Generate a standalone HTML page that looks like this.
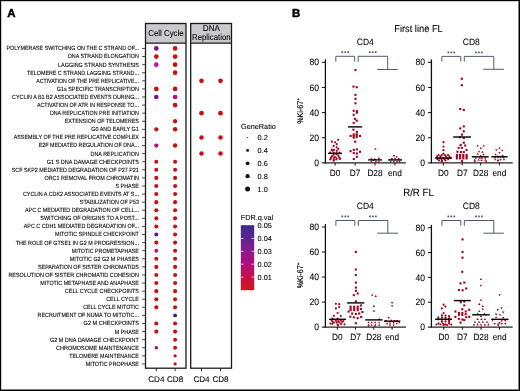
<!DOCTYPE html>
<html><head><meta charset="utf-8"><style>
html,body{margin:0;padding:0;background:#fff;}
#f{position:relative;width:520px;height:391px;overflow:hidden;background:#fff;}
svg{position:absolute;left:0;top:0;font-family:"Liberation Sans", sans-serif;will-change:transform;text-rendering:geometricPrecision;}
#m{filter:blur(0.3px);}
</style></head><body><div id="f">
<svg id="m" width="520" height="391" viewBox="0 0 520 391">
<text x="7.20" y="17.10" font-size="11.5" text-anchor="start" font-weight="bold" fill="#000" stroke="#000" stroke-width="0.45" >A</text>
<rect x="145.50" y="23.50" width="40.50" height="19.70" fill="#cacace" stroke="none" stroke-width="1"/>
<rect x="190.70" y="23.50" width="40.80" height="19.70" fill="#cacace" stroke="none" stroke-width="1"/>
<rect x="145.50" y="23.50" width="40.50" height="344.70" fill="none" stroke="#1a1a1a" stroke-width="1.3"/>
<rect x="190.70" y="23.50" width="40.80" height="344.70" fill="none" stroke="#1a1a1a" stroke-width="1.3"/>
<line x1="145.50" y1="43.20" x2="186.00" y2="43.20" stroke="#1a1a1a" stroke-width="1.2"/>
<line x1="190.70" y1="43.20" x2="231.50" y2="43.20" stroke="#1a1a1a" stroke-width="1.2"/>
<text x="165.95" y="36.10" font-size="8.5" text-anchor="middle" font-weight="normal" fill="#000" stroke="#000" stroke-width="0.08" textLength="35.4" lengthAdjust="spacingAndGlyphs">Cell Cycle</text>
<text x="211.35" y="31.00" font-size="8.5" text-anchor="middle" font-weight="normal" fill="#000" stroke="#000" stroke-width="0.08" textLength="17.2" lengthAdjust="spacingAndGlyphs">DNA</text>
<text x="211.30" y="40.00" font-size="8.5" text-anchor="middle" font-weight="normal" fill="#000" stroke="#000" stroke-width="0.08" textLength="38.6" lengthAdjust="spacingAndGlyphs">Replication</text>
<text x="138.9" y="50.35" font-size="6.0" text-anchor="end" fill="#000" stroke="#000" stroke-width="0.1" textLength="132.40" lengthAdjust="spacingAndGlyphs">POLYMERASE SWITCHING ON THE C STRAND OF...</text>
<line x1="142.10" y1="48.45" x2="145.30" y2="48.45" stroke="#333" stroke-width="0.9"/>
<circle cx="156.30" cy="48.45" r="2.35" fill="#731886"/>
<circle cx="175.10" cy="48.45" r="2.35" fill="#c81010"/>
<text x="138.9" y="58.44" font-size="6.0" text-anchor="end" fill="#000" stroke="#000" stroke-width="0.1" textLength="71.00" lengthAdjust="spacingAndGlyphs">DNA STRAND ELONGATION</text>
<line x1="142.10" y1="56.54" x2="145.30" y2="56.54" stroke="#333" stroke-width="0.9"/>
<circle cx="156.30" cy="56.54" r="2.35" fill="#c81010"/>
<circle cx="175.10" cy="56.54" r="2.35" fill="#c81010"/>
<text x="138.9" y="66.53" font-size="6.0" text-anchor="end" fill="#000" stroke="#000" stroke-width="0.1" textLength="80.80" lengthAdjust="spacingAndGlyphs">LAGGING STRAND SYNTHESIS</text>
<line x1="142.10" y1="64.63" x2="145.30" y2="64.63" stroke="#333" stroke-width="0.9"/>
<circle cx="156.30" cy="64.63" r="2.35" fill="#c0129a"/>
<circle cx="175.10" cy="64.63" r="2.35" fill="#c81010"/>
<text x="138.9" y="74.62" font-size="6.0" text-anchor="end" fill="#000" stroke="#000" stroke-width="0.1" textLength="111.90" lengthAdjust="spacingAndGlyphs">TELOMERE C STRAND LAGGING STRAND...</text>
<line x1="142.10" y1="72.72" x2="145.30" y2="72.72" stroke="#333" stroke-width="0.9"/>
<circle cx="175.10" cy="72.72" r="2.35" fill="#c81010"/>
<text x="138.9" y="82.71" font-size="6.0" text-anchor="end" fill="#000" stroke="#000" stroke-width="0.1" textLength="102.70" lengthAdjust="spacingAndGlyphs">ACTIVATION OF THE PRE REPLICATIVE...</text>
<line x1="142.10" y1="80.81" x2="145.30" y2="80.81" stroke="#333" stroke-width="0.9"/>
<circle cx="201.50" cy="80.81" r="2.35" fill="#c81010"/>
<circle cx="220.50" cy="80.81" r="2.35" fill="#c81010"/>
<text x="138.9" y="90.80" font-size="6.0" text-anchor="end" fill="#000" stroke="#000" stroke-width="0.1" textLength="82.20" lengthAdjust="spacingAndGlyphs">G1s SPECIFIC TRANSCRIPTION</text>
<line x1="142.10" y1="88.90" x2="145.30" y2="88.90" stroke="#333" stroke-width="0.9"/>
<circle cx="156.30" cy="88.90" r="2.35" fill="#c81010"/>
<circle cx="175.10" cy="88.90" r="2.35" fill="#c81010"/>
<text x="138.9" y="98.89" font-size="6.0" text-anchor="end" fill="#000" stroke="#000" stroke-width="0.1" textLength="126.80" lengthAdjust="spacingAndGlyphs">CYCLIN A B1 B2 ASSOCIATED EVENTS DURING...</text>
<line x1="142.10" y1="96.99" x2="145.30" y2="96.99" stroke="#333" stroke-width="0.9"/>
<circle cx="156.30" cy="96.99" r="2.35" fill="#731886"/>
<circle cx="175.10" cy="96.99" r="2.35" fill="#c4087c"/>
<text x="138.9" y="106.98" font-size="6.0" text-anchor="end" fill="#000" stroke="#000" stroke-width="0.1" textLength="101.90" lengthAdjust="spacingAndGlyphs">ACTIVATION OF ATR IN RESPONSE TO...</text>
<line x1="142.10" y1="105.08" x2="145.30" y2="105.08" stroke="#333" stroke-width="0.9"/>
<circle cx="175.10" cy="105.08" r="2.35" fill="#c81010"/>
<text x="138.9" y="115.07" font-size="6.0" text-anchor="end" fill="#000" stroke="#000" stroke-width="0.1" textLength="89.00" lengthAdjust="spacingAndGlyphs">DNA REPLICATION PRE INITIATION</text>
<line x1="142.10" y1="113.17" x2="145.30" y2="113.17" stroke="#333" stroke-width="0.9"/>
<circle cx="201.50" cy="113.17" r="2.35" fill="#c81010"/>
<circle cx="220.50" cy="113.17" r="2.35" fill="#c81010"/>
<text x="138.9" y="123.16" font-size="6.0" text-anchor="end" fill="#000" stroke="#000" stroke-width="0.1" textLength="74.10" lengthAdjust="spacingAndGlyphs">EXTENSION OF TELOMERES</text>
<line x1="142.10" y1="121.26" x2="145.30" y2="121.26" stroke="#333" stroke-width="0.9"/>
<circle cx="175.10" cy="121.26" r="2.15" fill="#c81010"/>
<text x="138.9" y="131.25" font-size="6.0" text-anchor="end" fill="#000" stroke="#000" stroke-width="0.1" textLength="47.70" lengthAdjust="spacingAndGlyphs">G0 AND EARLY G1</text>
<line x1="142.10" y1="129.35" x2="145.30" y2="129.35" stroke="#333" stroke-width="0.9"/>
<circle cx="156.30" cy="129.35" r="2.15" fill="#c81010"/>
<circle cx="175.10" cy="129.35" r="2.25" fill="#c81010"/>
<text x="138.9" y="139.34" font-size="6.0" text-anchor="end" fill="#000" stroke="#000" stroke-width="0.1" textLength="125.20" lengthAdjust="spacingAndGlyphs">ASSEMBLY OF THE PRE REPLICATIVE COMPLEX</text>
<line x1="142.10" y1="137.44" x2="145.30" y2="137.44" stroke="#333" stroke-width="0.9"/>
<circle cx="201.50" cy="137.44" r="2.25" fill="#c81010"/>
<circle cx="220.50" cy="137.44" r="2.25" fill="#c81010"/>
<text x="138.9" y="147.43" font-size="6.0" text-anchor="end" fill="#000" stroke="#000" stroke-width="0.1" textLength="100.20" lengthAdjust="spacingAndGlyphs">E2F MEDIATED REGULATION OF DNA...</text>
<line x1="142.10" y1="145.53" x2="145.30" y2="145.53" stroke="#333" stroke-width="0.9"/>
<circle cx="156.30" cy="145.53" r="2.15" fill="#c40a6e"/>
<circle cx="175.10" cy="145.53" r="2.25" fill="#c81010"/>
<text x="138.9" y="155.52" font-size="6.0" text-anchor="end" fill="#000" stroke="#000" stroke-width="0.1" textLength="48.40" lengthAdjust="spacingAndGlyphs">DNA REPLICATION</text>
<line x1="142.10" y1="153.62" x2="145.30" y2="153.62" stroke="#333" stroke-width="0.9"/>
<circle cx="201.50" cy="153.62" r="2.25" fill="#c81010"/>
<circle cx="220.50" cy="153.62" r="2.25" fill="#c81010"/>
<text x="138.9" y="163.61" font-size="6.0" text-anchor="end" fill="#000" stroke="#000" stroke-width="0.1" textLength="92.10" lengthAdjust="spacingAndGlyphs">G1 S DNA DAMAGE CHECKPOINTS</text>
<line x1="142.10" y1="161.71" x2="145.30" y2="161.71" stroke="#333" stroke-width="0.9"/>
<circle cx="156.30" cy="161.71" r="2.05" fill="#c81010"/>
<circle cx="175.10" cy="161.71" r="2.05" fill="#c81010"/>
<text x="138.9" y="171.70" font-size="6.0" text-anchor="end" fill="#000" stroke="#000" stroke-width="0.1" textLength="127.20" lengthAdjust="spacingAndGlyphs">SCF SKP2 MEDIATED DEGRADATION OF P27 P21</text>
<line x1="142.10" y1="169.80" x2="145.30" y2="169.80" stroke="#333" stroke-width="0.9"/>
<circle cx="156.30" cy="169.80" r="2.05" fill="#c81010"/>
<circle cx="175.10" cy="169.80" r="2.05" fill="#c81010"/>
<text x="138.9" y="179.79" font-size="6.0" text-anchor="end" fill="#000" stroke="#000" stroke-width="0.1" textLength="94.50" lengthAdjust="spacingAndGlyphs">ORC1 REMOVAL FROM CHROMATIN</text>
<line x1="142.10" y1="177.89" x2="145.30" y2="177.89" stroke="#333" stroke-width="0.9"/>
<circle cx="156.30" cy="177.89" r="2.05" fill="#c81010"/>
<circle cx="175.10" cy="177.89" r="2.05" fill="#c81010"/>
<text x="138.9" y="187.88" font-size="6.0" text-anchor="end" fill="#000" stroke="#000" stroke-width="0.1" textLength="23.40" lengthAdjust="spacingAndGlyphs">S PHASE</text>
<line x1="142.10" y1="185.98" x2="145.30" y2="185.98" stroke="#333" stroke-width="0.9"/>
<circle cx="156.30" cy="185.98" r="2.05" fill="#c81010"/>
<circle cx="175.10" cy="185.98" r="2.05" fill="#c81010"/>
<text x="138.9" y="195.97" font-size="6.0" text-anchor="end" fill="#000" stroke="#000" stroke-width="0.1" textLength="116.00" lengthAdjust="spacingAndGlyphs">CYCLIN A CDK2 ASSOCIATED EVENTS AT S...</text>
<line x1="142.10" y1="194.07" x2="145.30" y2="194.07" stroke="#333" stroke-width="0.9"/>
<circle cx="156.30" cy="194.07" r="2.05" fill="#c81010"/>
<circle cx="175.10" cy="194.07" r="2.05" fill="#c81010"/>
<text x="138.9" y="204.06" font-size="6.0" text-anchor="end" fill="#000" stroke="#000" stroke-width="0.1" textLength="59.10" lengthAdjust="spacingAndGlyphs">STABILIZATION OF P53</text>
<line x1="142.10" y1="202.16" x2="145.30" y2="202.16" stroke="#333" stroke-width="0.9"/>
<circle cx="156.30" cy="202.16" r="2.05" fill="#c81010"/>
<circle cx="175.10" cy="202.16" r="2.05" fill="#c81010"/>
<text x="138.9" y="212.15" font-size="6.0" text-anchor="end" fill="#000" stroke="#000" stroke-width="0.1" textLength="113.90" lengthAdjust="spacingAndGlyphs">APC C MEDIATED DEGRADATION OF CELL...</text>
<line x1="142.10" y1="210.25" x2="145.30" y2="210.25" stroke="#333" stroke-width="0.9"/>
<circle cx="156.30" cy="210.25" r="2.05" fill="#c81010"/>
<circle cx="175.10" cy="210.25" r="2.05" fill="#c81010"/>
<text x="138.9" y="220.24" font-size="6.0" text-anchor="end" fill="#000" stroke="#000" stroke-width="0.1" textLength="98.60" lengthAdjust="spacingAndGlyphs">SWITCHING OF ORIGINS TO A POST...</text>
<line x1="142.10" y1="218.34" x2="145.30" y2="218.34" stroke="#333" stroke-width="0.9"/>
<circle cx="156.30" cy="218.34" r="2.05" fill="#c81010"/>
<circle cx="175.10" cy="218.34" r="2.05" fill="#c81010"/>
<text x="138.9" y="228.33" font-size="6.0" text-anchor="end" fill="#000" stroke="#000" stroke-width="0.1" textLength="115.20" lengthAdjust="spacingAndGlyphs">APC C CDH1 MEDIATED DEGRADATION OF...</text>
<line x1="142.10" y1="226.43" x2="145.30" y2="226.43" stroke="#333" stroke-width="0.9"/>
<circle cx="156.30" cy="226.43" r="2.05" fill="#c81010"/>
<circle cx="175.10" cy="226.43" r="2.05" fill="#c81010"/>
<text x="138.9" y="236.42" font-size="6.0" text-anchor="end" fill="#000" stroke="#000" stroke-width="0.1" textLength="83.90" lengthAdjust="spacingAndGlyphs">MITOTIC SPINDLE CHECKPOINT</text>
<line x1="142.10" y1="234.52" x2="145.30" y2="234.52" stroke="#333" stroke-width="0.9"/>
<circle cx="156.30" cy="234.52" r="1.95" fill="#5c1490"/>
<circle cx="175.10" cy="234.52" r="2.05" fill="#c81010"/>
<text x="138.9" y="244.51" font-size="6.0" text-anchor="end" fill="#000" stroke="#000" stroke-width="0.1" textLength="123.10" lengthAdjust="spacingAndGlyphs">THE ROLE OF GTSE1 IN G2 M PROGRESSION...</text>
<line x1="142.10" y1="242.61" x2="145.30" y2="242.61" stroke="#333" stroke-width="0.9"/>
<circle cx="156.30" cy="242.61" r="2.05" fill="#c81010"/>
<circle cx="175.10" cy="242.61" r="2.05" fill="#c81010"/>
<text x="138.9" y="252.60" font-size="6.0" text-anchor="end" fill="#000" stroke="#000" stroke-width="0.1" textLength="67.10" lengthAdjust="spacingAndGlyphs">MITOTIC PROMETAPHASE</text>
<line x1="142.10" y1="250.70" x2="145.30" y2="250.70" stroke="#333" stroke-width="0.9"/>
<circle cx="156.30" cy="250.70" r="1.95" fill="#c41060"/>
<circle cx="175.10" cy="250.70" r="2.05" fill="#c81010"/>
<text x="138.9" y="260.69" font-size="6.0" text-anchor="end" fill="#000" stroke="#000" stroke-width="0.1" textLength="69.20" lengthAdjust="spacingAndGlyphs">MITOTIC G2 G2 M PHASES</text>
<line x1="142.10" y1="258.79" x2="145.30" y2="258.79" stroke="#333" stroke-width="0.9"/>
<circle cx="156.30" cy="258.79" r="2.05" fill="#c81010"/>
<circle cx="175.10" cy="258.79" r="2.05" fill="#c81010"/>
<text x="138.9" y="268.78" font-size="6.0" text-anchor="end" fill="#000" stroke="#000" stroke-width="0.1" textLength="100.90" lengthAdjust="spacingAndGlyphs">SEPARATION OF SISTER CHROMATIDS</text>
<line x1="142.10" y1="266.88" x2="145.30" y2="266.88" stroke="#333" stroke-width="0.9"/>
<circle cx="156.30" cy="266.88" r="2.05" fill="#c81010"/>
<circle cx="175.10" cy="266.88" r="2.05" fill="#c81010"/>
<text x="138.9" y="276.87" font-size="6.0" text-anchor="end" fill="#000" stroke="#000" stroke-width="0.1" textLength="130.50" lengthAdjust="spacingAndGlyphs">RESOLUTION OF SISTER CHROMATID COHESION</text>
<line x1="142.10" y1="274.97" x2="145.30" y2="274.97" stroke="#333" stroke-width="0.9"/>
<circle cx="156.30" cy="274.97" r="2.05" fill="#c81010"/>
<circle cx="175.10" cy="274.97" r="2.05" fill="#c81010"/>
<text x="138.9" y="284.96" font-size="6.0" text-anchor="end" fill="#000" stroke="#000" stroke-width="0.1" textLength="98.60" lengthAdjust="spacingAndGlyphs">MITOTIC METAPHASE AND ANAPHASE</text>
<line x1="142.10" y1="283.06" x2="145.30" y2="283.06" stroke="#333" stroke-width="0.9"/>
<circle cx="156.30" cy="283.06" r="2.05" fill="#c81010"/>
<circle cx="175.10" cy="283.06" r="2.05" fill="#c81010"/>
<text x="138.9" y="293.05" font-size="6.0" text-anchor="end" fill="#000" stroke="#000" stroke-width="0.1" textLength="74.10" lengthAdjust="spacingAndGlyphs">CELL CYCLE CHECKPOINTS</text>
<line x1="142.10" y1="291.15" x2="145.30" y2="291.15" stroke="#333" stroke-width="0.9"/>
<circle cx="156.30" cy="291.15" r="2.05" fill="#c81010"/>
<circle cx="175.10" cy="291.15" r="2.05" fill="#c81010"/>
<text x="138.9" y="301.14" font-size="6.0" text-anchor="end" fill="#000" stroke="#000" stroke-width="0.1" textLength="32.70" lengthAdjust="spacingAndGlyphs">CELL CYCLE</text>
<line x1="142.10" y1="299.24" x2="145.30" y2="299.24" stroke="#333" stroke-width="0.9"/>
<circle cx="156.30" cy="299.24" r="2.05" fill="#c81010"/>
<circle cx="175.10" cy="299.24" r="2.05" fill="#c81010"/>
<text x="138.9" y="309.23" font-size="6.0" text-anchor="end" fill="#000" stroke="#000" stroke-width="0.1" textLength="55.70" lengthAdjust="spacingAndGlyphs">CELL CYCLE MITOTIC</text>
<line x1="142.10" y1="307.33" x2="145.30" y2="307.33" stroke="#333" stroke-width="0.9"/>
<circle cx="156.30" cy="307.33" r="2.05" fill="#c81010"/>
<circle cx="175.10" cy="307.33" r="2.05" fill="#c81010"/>
<text x="138.9" y="317.32" font-size="6.0" text-anchor="end" fill="#000" stroke="#000" stroke-width="0.1" textLength="101.30" lengthAdjust="spacingAndGlyphs">RECRUITMENT OF NUMA TO MITOTIC...</text>
<line x1="142.10" y1="315.42" x2="145.30" y2="315.42" stroke="#333" stroke-width="0.9"/>
<circle cx="175.10" cy="315.42" r="1.95" fill="#4a1894"/>
<text x="138.9" y="325.41" font-size="6.0" text-anchor="end" fill="#000" stroke="#000" stroke-width="0.1" textLength="55.30" lengthAdjust="spacingAndGlyphs">G2 M CHECKPOINTS</text>
<line x1="142.10" y1="323.51" x2="145.30" y2="323.51" stroke="#333" stroke-width="0.9"/>
<circle cx="156.30" cy="323.51" r="2.05" fill="#c81010"/>
<circle cx="175.10" cy="323.51" r="2.05" fill="#c81010"/>
<text x="138.9" y="333.50" font-size="6.0" text-anchor="end" fill="#000" stroke="#000" stroke-width="0.1" textLength="24.20" lengthAdjust="spacingAndGlyphs">M PHASE</text>
<line x1="142.10" y1="331.60" x2="145.30" y2="331.60" stroke="#333" stroke-width="0.9"/>
<circle cx="156.30" cy="331.60" r="2.05" fill="#c81010"/>
<circle cx="175.10" cy="331.60" r="2.05" fill="#c81010"/>
<text x="138.9" y="341.59" font-size="6.0" text-anchor="end" fill="#000" stroke="#000" stroke-width="0.1" textLength="89.00" lengthAdjust="spacingAndGlyphs">G2 M DNA DAMAGE CHECKPOINT</text>
<line x1="142.10" y1="339.69" x2="145.30" y2="339.69" stroke="#333" stroke-width="0.9"/>
<circle cx="175.10" cy="339.69" r="1.95" fill="#c81010"/>
<text x="138.9" y="349.68" font-size="6.0" text-anchor="end" fill="#000" stroke="#000" stroke-width="0.1" textLength="82.90" lengthAdjust="spacingAndGlyphs">CHROMOSOME MAINTENANCE</text>
<line x1="142.10" y1="347.78" x2="145.30" y2="347.78" stroke="#333" stroke-width="0.9"/>
<circle cx="156.30" cy="347.78" r="1.75" fill="#a8106a"/>
<circle cx="175.10" cy="347.78" r="1.95" fill="#c81010"/>
<text x="138.9" y="357.77" font-size="6.0" text-anchor="end" fill="#000" stroke="#000" stroke-width="0.1" textLength="69.60" lengthAdjust="spacingAndGlyphs">TELOMERE MAINTENANCE</text>
<line x1="142.10" y1="355.87" x2="145.30" y2="355.87" stroke="#333" stroke-width="0.9"/>
<circle cx="175.10" cy="355.87" r="1.65" fill="#c81010"/>
<text x="138.9" y="365.86" font-size="6.0" text-anchor="end" fill="#000" stroke="#000" stroke-width="0.1" textLength="53.20" lengthAdjust="spacingAndGlyphs">MITOTIC PROPHASE</text>
<line x1="142.10" y1="363.96" x2="145.30" y2="363.96" stroke="#333" stroke-width="0.9"/>
<circle cx="175.10" cy="363.96" r="1.65" fill="#c81010"/>
<line x1="156.30" y1="368.20" x2="156.30" y2="371.20" stroke="#1a1a1a" stroke-width="0.9"/>
<line x1="175.10" y1="368.20" x2="175.10" y2="371.20" stroke="#1a1a1a" stroke-width="0.9"/>
<line x1="201.50" y1="368.20" x2="201.50" y2="371.20" stroke="#1a1a1a" stroke-width="0.9"/>
<line x1="220.50" y1="368.20" x2="220.50" y2="371.20" stroke="#1a1a1a" stroke-width="0.9"/>
<text x="156.30" y="381.90" font-size="8.1" text-anchor="middle" font-weight="normal" fill="#000" stroke="#000" stroke-width="0.08" >CD4</text>
<text x="175.10" y="381.90" font-size="8.1" text-anchor="middle" font-weight="normal" fill="#000" stroke="#000" stroke-width="0.08" >CD8</text>
<text x="201.50" y="381.90" font-size="8.1" text-anchor="middle" font-weight="normal" fill="#000" stroke="#000" stroke-width="0.08" >CD4</text>
<text x="220.50" y="381.90" font-size="8.1" text-anchor="middle" font-weight="normal" fill="#000" stroke="#000" stroke-width="0.08" >CD8</text>
<text x="241.00" y="128.60" font-size="7.3" text-anchor="start" font-weight="normal" fill="#000" stroke="#000" stroke-width="0.08" >GeneRatio</text>
<circle cx="247.60" cy="137.50" r="0.60" fill="#111"/>
<text x="257.60" y="140.10" font-size="7.3" text-anchor="start" font-weight="normal" fill="#000" stroke="#000" stroke-width="0.08" >0.2</text>
<circle cx="247.60" cy="150.40" r="1.45" fill="#111"/>
<text x="257.60" y="153.00" font-size="7.3" text-anchor="start" font-weight="normal" fill="#000" stroke="#000" stroke-width="0.08" >0.4</text>
<circle cx="247.60" cy="163.30" r="1.85" fill="#111"/>
<text x="257.60" y="165.90" font-size="7.3" text-anchor="start" font-weight="normal" fill="#000" stroke="#000" stroke-width="0.08" >0.6</text>
<circle cx="247.60" cy="176.20" r="2.10" fill="#111"/>
<text x="257.60" y="178.80" font-size="7.3" text-anchor="start" font-weight="normal" fill="#000" stroke="#000" stroke-width="0.08" >0.8</text>
<circle cx="247.60" cy="189.10" r="2.50" fill="#111"/>
<text x="257.60" y="191.70" font-size="7.3" text-anchor="start" font-weight="normal" fill="#000" stroke="#000" stroke-width="0.08" >1.0</text>
<text x="240.70" y="220.30" font-size="7.3" text-anchor="start" font-weight="normal" fill="#000" stroke="#000" stroke-width="0.08" >FDR.q.val</text>
<defs><linearGradient id="g" x1="0" y1="0" x2="0" y2="1"><stop offset="0" stop-color="#3e2a8e"/><stop offset="0.2" stop-color="#5a2590"/><stop offset="0.4" stop-color="#8a1c8c"/><stop offset="0.6" stop-color="#b40c7e"/><stop offset="0.8" stop-color="#c80e48"/><stop offset="1" stop-color="#d0181a"/></linearGradient></defs>
<rect x="240.80" y="225.20" width="13.40" height="65.00" fill="url(#g)" stroke="none" stroke-width="1"/>
<text x="257.60" y="228.10" font-size="7.3" text-anchor="start" font-weight="normal" fill="#000" stroke="#000" stroke-width="0.08" >0.05</text>
<line x1="240.80" y1="238.40" x2="243.50" y2="238.40" stroke="#ffffff" stroke-width="0.7"/>
<line x1="251.50" y1="238.40" x2="254.20" y2="238.40" stroke="#ffffff" stroke-width="0.7"/>
<text x="257.60" y="241.00" font-size="7.3" text-anchor="start" font-weight="normal" fill="#000" stroke="#000" stroke-width="0.08" >0.04</text>
<line x1="240.80" y1="251.30" x2="243.50" y2="251.30" stroke="#ffffff" stroke-width="0.7"/>
<line x1="251.50" y1="251.30" x2="254.20" y2="251.30" stroke="#ffffff" stroke-width="0.7"/>
<text x="257.60" y="253.90" font-size="7.3" text-anchor="start" font-weight="normal" fill="#000" stroke="#000" stroke-width="0.08" >0.03</text>
<line x1="240.80" y1="264.20" x2="243.50" y2="264.20" stroke="#ffffff" stroke-width="0.7"/>
<line x1="251.50" y1="264.20" x2="254.20" y2="264.20" stroke="#ffffff" stroke-width="0.7"/>
<text x="257.60" y="266.80" font-size="7.3" text-anchor="start" font-weight="normal" fill="#000" stroke="#000" stroke-width="0.08" >0.02</text>
<line x1="240.80" y1="277.10" x2="243.50" y2="277.10" stroke="#ffffff" stroke-width="0.7"/>
<line x1="251.50" y1="277.10" x2="254.20" y2="277.10" stroke="#ffffff" stroke-width="0.7"/>
<text x="257.60" y="279.70" font-size="7.3" text-anchor="start" font-weight="normal" fill="#000" stroke="#000" stroke-width="0.08" >0.01</text>
<text x="292.10" y="17.10" font-size="11.5" text-anchor="start" font-weight="bold" fill="#000" stroke="#000" stroke-width="0.45" >B</text>
<text x="418.50" y="31.90" font-size="10.04" text-anchor="middle" font-weight="normal" fill="#000" stroke="#000" stroke-width="0.08" textLength="48.57" lengthAdjust="spacingAndGlyphs">First line FL</text>
<text x="418.50" y="196.00" font-size="10.48" text-anchor="middle" font-weight="normal" fill="#000" stroke="#000" stroke-width="0.08" textLength="30.72" lengthAdjust="spacingAndGlyphs">R/R FL</text>
<line x1="325.40" y1="59.41" x2="325.40" y2="163.50" stroke="#111" stroke-width="1.3"/>
<line x1="321.90" y1="162.90" x2="405.80" y2="162.90" stroke="#222" stroke-width="1.4"/>
<line x1="321.90" y1="137.75" x2="325.40" y2="137.75" stroke="#111" stroke-width="1.0"/>
<text x="319.10" y="140.90" font-size="9.29" text-anchor="end" font-weight="normal" fill="#000" stroke="#000" stroke-width="0.08" textLength="9.56" lengthAdjust="spacingAndGlyphs">20</text>
<line x1="321.90" y1="112.60" x2="325.40" y2="112.60" stroke="#111" stroke-width="1.0"/>
<text x="319.10" y="115.75" font-size="9.29" text-anchor="end" font-weight="normal" fill="#000" stroke="#000" stroke-width="0.08" textLength="9.56" lengthAdjust="spacingAndGlyphs">40</text>
<line x1="321.90" y1="87.45" x2="325.40" y2="87.45" stroke="#111" stroke-width="1.0"/>
<text x="319.10" y="90.60" font-size="9.29" text-anchor="end" font-weight="normal" fill="#000" stroke="#000" stroke-width="0.08" textLength="9.56" lengthAdjust="spacingAndGlyphs">60</text>
<line x1="321.90" y1="62.30" x2="325.40" y2="62.30" stroke="#111" stroke-width="1.0"/>
<text x="319.10" y="65.45" font-size="9.29" text-anchor="end" font-weight="normal" fill="#000" stroke="#000" stroke-width="0.08" textLength="9.56" lengthAdjust="spacingAndGlyphs">80</text>
<text x="319.10" y="166.05" font-size="9.29" text-anchor="end" font-weight="normal" fill="#000" stroke="#000" stroke-width="0.08" textLength="4.78" lengthAdjust="spacingAndGlyphs">0</text>
<line x1="335.10" y1="162.90" x2="335.10" y2="165.50" stroke="#111" stroke-width="1.0"/>
<text x="335.10" y="176.25" font-size="8.96" text-anchor="middle" font-weight="normal" fill="#000" stroke="#000" stroke-width="0.08" textLength="10.61" lengthAdjust="spacingAndGlyphs">D0</text>
<line x1="355.10" y1="162.90" x2="355.10" y2="165.50" stroke="#111" stroke-width="1.0"/>
<text x="355.10" y="176.25" font-size="8.96" text-anchor="middle" font-weight="normal" fill="#000" stroke="#000" stroke-width="0.08" textLength="10.61" lengthAdjust="spacingAndGlyphs">D7</text>
<line x1="375.00" y1="162.90" x2="375.00" y2="165.50" stroke="#111" stroke-width="1.0"/>
<text x="375.00" y="176.25" font-size="8.96" text-anchor="middle" font-weight="normal" fill="#000" stroke="#000" stroke-width="0.08" textLength="15.23" lengthAdjust="spacingAndGlyphs">D28</text>
<line x1="394.90" y1="162.90" x2="394.90" y2="165.50" stroke="#111" stroke-width="1.0"/>
<text x="394.90" y="176.25" font-size="8.96" text-anchor="middle" font-weight="normal" fill="#000" stroke="#000" stroke-width="0.08" textLength="13.85" lengthAdjust="spacingAndGlyphs">end</text>
<circle cx="338.20" cy="139.80" r="1.08" fill="#a0001c"/>
<circle cx="331.90" cy="141.70" r="1.08" fill="#a0001c"/>
<circle cx="335.10" cy="142.30" r="1.08" fill="#a0001c"/>
<circle cx="336.70" cy="144.20" r="1.08" fill="#a0001c"/>
<circle cx="333.60" cy="145.90" r="1.08" fill="#a0001c"/>
<circle cx="336.70" cy="147.30" r="1.08" fill="#a0001c"/>
<circle cx="338.30" cy="148.90" r="1.08" fill="#a0001c"/>
<circle cx="331.70" cy="149.50" r="1.08" fill="#a0001c"/>
<circle cx="334.00" cy="149.90" r="1.08" fill="#a0001c"/>
<circle cx="336.80" cy="150.80" r="1.08" fill="#a0001c"/>
<circle cx="332.20" cy="150.60" r="1.08" fill="#a0001c"/>
<circle cx="330.30" cy="152.50" r="1.08" fill="#a0001c"/>
<circle cx="333.70" cy="152.70" r="1.08" fill="#a0001c"/>
<circle cx="336.60" cy="153.20" r="1.08" fill="#a0001c"/>
<circle cx="339.60" cy="152.50" r="1.08" fill="#a0001c"/>
<circle cx="333.70" cy="154.70" r="1.08" fill="#a0001c"/>
<circle cx="336.60" cy="154.30" r="1.08" fill="#a0001c"/>
<circle cx="332.30" cy="156.20" r="1.08" fill="#a0001c"/>
<circle cx="338.30" cy="155.70" r="1.08" fill="#a0001c"/>
<circle cx="335.00" cy="157.00" r="1.08" fill="#a0001c"/>
<circle cx="331.30" cy="157.20" r="1.08" fill="#a0001c"/>
<circle cx="339.30" cy="157.30" r="1.08" fill="#a0001c"/>
<circle cx="330.70" cy="158.50" r="1.08" fill="#a0001c"/>
<circle cx="334.00" cy="158.00" r="1.08" fill="#a0001c"/>
<circle cx="336.60" cy="158.30" r="1.08" fill="#a0001c"/>
<circle cx="339.60" cy="158.30" r="1.08" fill="#a0001c"/>
<circle cx="330.30" cy="159.50" r="1.08" fill="#a0001c"/>
<circle cx="333.70" cy="159.70" r="1.08" fill="#a0001c"/>
<circle cx="336.30" cy="159.50" r="1.08" fill="#a0001c"/>
<circle cx="340.00" cy="159.00" r="1.08" fill="#a0001c"/>
<circle cx="333.70" cy="160.70" r="1.08" fill="#a0001c"/>
<rect x="354.45" y="69.05" width="2.1" height="2.1" fill="#a0001c"/>
<rect x="352.45" y="85.55" width="2.1" height="2.1" fill="#a0001c"/>
<rect x="355.65" y="86.15" width="2.1" height="2.1" fill="#a0001c"/>
<rect x="354.45" y="93.75" width="2.1" height="2.1" fill="#a0001c"/>
<rect x="354.45" y="97.75" width="2.1" height="2.1" fill="#a0001c"/>
<rect x="354.45" y="102.25" width="2.1" height="2.1" fill="#a0001c"/>
<rect x="352.65" y="109.75" width="2.1" height="2.1" fill="#a0001c"/>
<rect x="355.85" y="110.05" width="2.1" height="2.1" fill="#a0001c"/>
<rect x="355.85" y="111.65" width="2.1" height="2.1" fill="#a0001c"/>
<rect x="352.65" y="113.75" width="2.1" height="2.1" fill="#a0001c"/>
<rect x="354.05" y="117.75" width="2.1" height="2.1" fill="#a0001c"/>
<rect x="355.65" y="119.65" width="2.1" height="2.1" fill="#a0001c"/>
<rect x="352.65" y="121.85" width="2.1" height="2.1" fill="#a0001c"/>
<rect x="352.35" y="128.65" width="2.1" height="2.1" fill="#a0001c"/>
<rect x="355.85" y="130.75" width="2.1" height="2.1" fill="#a0001c"/>
<rect x="355.65" y="133.15" width="2.1" height="2.1" fill="#a0001c"/>
<rect x="352.65" y="133.45" width="2.1" height="2.1" fill="#a0001c"/>
<rect x="349.55" y="134.85" width="2.1" height="2.1" fill="#a0001c"/>
<rect x="352.65" y="134.85" width="2.1" height="2.1" fill="#a0001c"/>
<rect x="352.65" y="136.65" width="2.1" height="2.1" fill="#a0001c"/>
<rect x="355.65" y="134.25" width="2.1" height="2.1" fill="#a0001c"/>
<rect x="355.65" y="136.05" width="2.1" height="2.1" fill="#a0001c"/>
<rect x="358.95" y="134.85" width="2.1" height="2.1" fill="#a0001c"/>
<rect x="354.15" y="140.65" width="2.1" height="2.1" fill="#a0001c"/>
<rect x="352.75" y="148.85" width="2.1" height="2.1" fill="#a0001c"/>
<rect x="355.85" y="148.35" width="2.1" height="2.1" fill="#a0001c"/>
<rect x="349.55" y="150.15" width="2.1" height="2.1" fill="#a0001c"/>
<rect x="358.95" y="150.75" width="2.1" height="2.1" fill="#a0001c"/>
<rect x="352.75" y="152.05" width="2.1" height="2.1" fill="#a0001c"/>
<rect x="355.85" y="152.45" width="2.1" height="2.1" fill="#a0001c"/>
<rect x="355.85" y="155.75" width="2.1" height="2.1" fill="#a0001c"/>
<rect x="352.75" y="157.95" width="2.1" height="2.1" fill="#a0001c"/>
<path d="M375.50 147.75L376.65 149.80H374.35Z" fill="#a0001c"/>
<path d="M371.30 157.45L372.45 159.50H370.15Z" fill="#a0001c"/>
<path d="M371.30 160.35L372.45 162.40H370.15Z" fill="#a0001c"/>
<path d="M374.90 157.85L376.05 159.90H373.75Z" fill="#a0001c"/>
<path d="M376.00 160.35L377.15 162.40H374.85Z" fill="#a0001c"/>
<path d="M378.90 157.05L380.05 159.10H377.75Z" fill="#a0001c"/>
<path d="M378.90 160.35L380.05 162.40H377.75Z" fill="#a0001c"/>
<path d="M373.20 159.05L374.35 161.10H372.05Z" fill="#a0001c"/>
<path d="M393.90 157.15L395.05 155.10H392.75Z" fill="#a0001c"/>
<path d="M396.70 158.35L397.85 156.30H395.55Z" fill="#a0001c"/>
<path d="M391.90 159.95L393.05 157.90H390.75Z" fill="#a0001c"/>
<path d="M395.10 159.85L396.25 157.80H393.95Z" fill="#a0001c"/>
<path d="M398.70 159.95L399.85 157.90H397.55Z" fill="#a0001c"/>
<path d="M390.70 162.85L391.85 160.80H389.55Z" fill="#a0001c"/>
<path d="M393.90 162.85L395.05 160.80H392.75Z" fill="#a0001c"/>
<path d="M397.10 162.85L398.25 160.80H395.95Z" fill="#a0001c"/>
<path d="M399.50 162.85L400.65 160.80H398.35Z" fill="#a0001c"/>
<line x1="328.00" y1="153.40" x2="342.00" y2="153.40" stroke="#000" stroke-width="1.4"/>
<line x1="348.00" y1="126.90" x2="362.20" y2="126.90" stroke="#000" stroke-width="1.4"/>
<line x1="368.20" y1="159.90" x2="381.90" y2="159.90" stroke="#000" stroke-width="1.4"/>
<line x1="388.20" y1="159.90" x2="402.00" y2="159.90" stroke="#000" stroke-width="1.4"/>
<line x1="431.40" y1="59.41" x2="431.40" y2="163.50" stroke="#111" stroke-width="1.3"/>
<line x1="427.90" y1="162.90" x2="512.70" y2="162.90" stroke="#222" stroke-width="1.4"/>
<line x1="427.90" y1="137.75" x2="431.40" y2="137.75" stroke="#111" stroke-width="1.0"/>
<text x="425.10" y="140.90" font-size="9.29" text-anchor="end" font-weight="normal" fill="#000" stroke="#000" stroke-width="0.08" textLength="9.56" lengthAdjust="spacingAndGlyphs">20</text>
<line x1="427.90" y1="112.60" x2="431.40" y2="112.60" stroke="#111" stroke-width="1.0"/>
<text x="425.10" y="115.75" font-size="9.29" text-anchor="end" font-weight="normal" fill="#000" stroke="#000" stroke-width="0.08" textLength="9.56" lengthAdjust="spacingAndGlyphs">40</text>
<line x1="427.90" y1="87.45" x2="431.40" y2="87.45" stroke="#111" stroke-width="1.0"/>
<text x="425.10" y="90.60" font-size="9.29" text-anchor="end" font-weight="normal" fill="#000" stroke="#000" stroke-width="0.08" textLength="9.56" lengthAdjust="spacingAndGlyphs">60</text>
<line x1="427.90" y1="62.30" x2="431.40" y2="62.30" stroke="#111" stroke-width="1.0"/>
<text x="425.10" y="65.45" font-size="9.29" text-anchor="end" font-weight="normal" fill="#000" stroke="#000" stroke-width="0.08" textLength="9.56" lengthAdjust="spacingAndGlyphs">80</text>
<text x="425.10" y="166.05" font-size="9.29" text-anchor="end" font-weight="normal" fill="#000" stroke="#000" stroke-width="0.08" textLength="4.78" lengthAdjust="spacingAndGlyphs">0</text>
<line x1="443.40" y1="162.90" x2="443.40" y2="165.50" stroke="#111" stroke-width="1.0"/>
<text x="443.40" y="176.25" font-size="8.96" text-anchor="middle" font-weight="normal" fill="#000" stroke="#000" stroke-width="0.08" textLength="10.61" lengthAdjust="spacingAndGlyphs">D0</text>
<line x1="462.20" y1="162.90" x2="462.20" y2="165.50" stroke="#111" stroke-width="1.0"/>
<text x="462.20" y="176.25" font-size="8.96" text-anchor="middle" font-weight="normal" fill="#000" stroke="#000" stroke-width="0.08" textLength="10.61" lengthAdjust="spacingAndGlyphs">D7</text>
<line x1="480.70" y1="162.90" x2="480.70" y2="165.50" stroke="#111" stroke-width="1.0"/>
<text x="480.70" y="176.25" font-size="8.96" text-anchor="middle" font-weight="normal" fill="#000" stroke="#000" stroke-width="0.08" textLength="15.23" lengthAdjust="spacingAndGlyphs">D28</text>
<line x1="499.40" y1="162.90" x2="499.40" y2="165.50" stroke="#111" stroke-width="1.0"/>
<text x="499.40" y="176.25" font-size="8.96" text-anchor="middle" font-weight="normal" fill="#000" stroke="#000" stroke-width="0.08" textLength="13.85" lengthAdjust="spacingAndGlyphs">end</text>
<circle cx="443.50" cy="142.20" r="1.08" fill="#a0001c"/>
<circle cx="443.50" cy="146.60" r="1.08" fill="#a0001c"/>
<circle cx="443.40" cy="150.20" r="1.08" fill="#a0001c"/>
<circle cx="443.40" cy="153.70" r="1.08" fill="#a0001c"/>
<circle cx="438.60" cy="155.20" r="1.08" fill="#a0001c"/>
<circle cx="441.90" cy="155.00" r="1.08" fill="#a0001c"/>
<circle cx="444.80" cy="155.00" r="1.08" fill="#a0001c"/>
<circle cx="448.00" cy="155.00" r="1.08" fill="#a0001c"/>
<circle cx="437.10" cy="156.30" r="1.08" fill="#a0001c"/>
<circle cx="440.70" cy="156.30" r="1.08" fill="#a0001c"/>
<circle cx="445.90" cy="156.30" r="1.08" fill="#a0001c"/>
<circle cx="449.40" cy="156.30" r="1.08" fill="#a0001c"/>
<circle cx="436.30" cy="157.90" r="1.08" fill="#a0001c"/>
<circle cx="439.80" cy="157.90" r="1.08" fill="#a0001c"/>
<circle cx="443.20" cy="157.90" r="1.08" fill="#a0001c"/>
<circle cx="446.70" cy="157.90" r="1.08" fill="#a0001c"/>
<circle cx="450.20" cy="157.90" r="1.08" fill="#a0001c"/>
<circle cx="437.50" cy="159.20" r="1.08" fill="#a0001c"/>
<circle cx="441.30" cy="159.00" r="1.08" fill="#a0001c"/>
<circle cx="444.40" cy="159.20" r="1.08" fill="#a0001c"/>
<circle cx="448.20" cy="159.20" r="1.08" fill="#a0001c"/>
<circle cx="439.00" cy="160.40" r="1.08" fill="#a0001c"/>
<circle cx="442.10" cy="160.60" r="1.08" fill="#a0001c"/>
<circle cx="445.50" cy="160.40" r="1.08" fill="#a0001c"/>
<circle cx="441.70" cy="161.50" r="1.08" fill="#a0001c"/>
<rect x="460.75" y="77.75" width="2.1" height="2.1" fill="#a0001c"/>
<rect x="460.75" y="84.15" width="2.1" height="2.1" fill="#a0001c"/>
<rect x="459.15" y="107.95" width="2.1" height="2.1" fill="#a0001c"/>
<rect x="462.75" y="108.95" width="2.1" height="2.1" fill="#a0001c"/>
<rect x="462.75" y="125.35" width="2.1" height="2.1" fill="#a0001c"/>
<rect x="459.15" y="127.35" width="2.1" height="2.1" fill="#a0001c"/>
<rect x="462.75" y="130.25" width="2.1" height="2.1" fill="#a0001c"/>
<rect x="460.95" y="133.55" width="2.1" height="2.1" fill="#a0001c"/>
<rect x="459.05" y="136.15" width="2.1" height="2.1" fill="#a0001c"/>
<rect x="462.75" y="137.05" width="2.1" height="2.1" fill="#a0001c"/>
<rect x="462.75" y="141.65" width="2.1" height="2.1" fill="#a0001c"/>
<rect x="459.55" y="143.95" width="2.1" height="2.1" fill="#a0001c"/>
<rect x="464.15" y="144.45" width="2.1" height="2.1" fill="#a0001c"/>
<rect x="457.65" y="146.75" width="2.1" height="2.1" fill="#a0001c"/>
<rect x="460.95" y="146.75" width="2.1" height="2.1" fill="#a0001c"/>
<rect x="465.55" y="149.05" width="2.1" height="2.1" fill="#a0001c"/>
<rect x="456.35" y="150.65" width="2.1" height="2.1" fill="#a0001c"/>
<rect x="459.85" y="151.05" width="2.1" height="2.1" fill="#a0001c"/>
<rect x="462.75" y="151.05" width="2.1" height="2.1" fill="#a0001c"/>
<rect x="455.85" y="153.95" width="2.1" height="2.1" fill="#a0001c"/>
<rect x="455.85" y="155.75" width="2.1" height="2.1" fill="#a0001c"/>
<rect x="455.85" y="157.35" width="2.1" height="2.1" fill="#a0001c"/>
<rect x="459.05" y="153.95" width="2.1" height="2.1" fill="#a0001c"/>
<rect x="459.05" y="155.75" width="2.1" height="2.1" fill="#a0001c"/>
<rect x="459.05" y="157.35" width="2.1" height="2.1" fill="#a0001c"/>
<rect x="462.25" y="153.95" width="2.1" height="2.1" fill="#a0001c"/>
<rect x="462.25" y="155.75" width="2.1" height="2.1" fill="#a0001c"/>
<rect x="462.25" y="157.35" width="2.1" height="2.1" fill="#a0001c"/>
<rect x="465.55" y="153.95" width="2.1" height="2.1" fill="#a0001c"/>
<rect x="465.55" y="155.75" width="2.1" height="2.1" fill="#a0001c"/>
<rect x="465.55" y="157.35" width="2.1" height="2.1" fill="#a0001c"/>
<rect x="460.95" y="160.05" width="2.1" height="2.1" fill="#a0001c"/>
<path d="M477.70 144.55L478.85 146.60H476.55Z" fill="#a0001c"/>
<path d="M483.70 144.55L484.85 146.60H482.55Z" fill="#a0001c"/>
<path d="M480.70 147.05L481.85 149.10H479.55Z" fill="#a0001c"/>
<path d="M479.00 150.25L480.15 152.30H477.85Z" fill="#a0001c"/>
<path d="M482.40 150.75L483.55 152.80H481.25Z" fill="#a0001c"/>
<path d="M477.70 152.65L478.85 154.70H476.55Z" fill="#a0001c"/>
<path d="M483.70 153.25L484.85 155.30H482.55Z" fill="#a0001c"/>
<path d="M480.70 154.55L481.85 156.60H479.55Z" fill="#a0001c"/>
<path d="M476.00 156.65L477.15 158.70H474.85Z" fill="#a0001c"/>
<path d="M479.80 156.65L480.95 158.70H478.65Z" fill="#a0001c"/>
<path d="M482.00 156.65L483.15 158.70H480.85Z" fill="#a0001c"/>
<path d="M485.30 156.65L486.45 158.70H484.15Z" fill="#a0001c"/>
<path d="M474.80 158.75L475.95 160.80H473.65Z" fill="#a0001c"/>
<path d="M478.60 158.75L479.75 160.80H477.45Z" fill="#a0001c"/>
<path d="M481.50 158.95L482.65 161.00H480.35Z" fill="#a0001c"/>
<path d="M485.30 158.75L486.45 160.80H484.15Z" fill="#a0001c"/>
<path d="M474.80 160.05L475.95 162.10H473.65Z" fill="#a0001c"/>
<path d="M486.20 160.05L487.35 162.10H485.05Z" fill="#a0001c"/>
<path d="M499.50 149.55L500.65 147.50H498.35Z" fill="#a0001c"/>
<path d="M496.30 151.25L497.45 149.20H495.15Z" fill="#a0001c"/>
<path d="M502.30 151.75L503.45 149.70H501.15Z" fill="#a0001c"/>
<path d="M499.50 154.05L500.65 152.00H498.35Z" fill="#a0001c"/>
<path d="M495.50 155.75L496.65 153.70H494.35Z" fill="#a0001c"/>
<path d="M497.60 157.45L498.75 155.40H496.45Z" fill="#a0001c"/>
<path d="M502.70 157.05L503.85 155.00H501.55Z" fill="#a0001c"/>
<path d="M495.10 158.75L496.25 156.70H493.95Z" fill="#a0001c"/>
<path d="M498.00 158.55L499.15 156.50H496.85Z" fill="#a0001c"/>
<path d="M500.60 158.55L501.75 156.50H499.45Z" fill="#a0001c"/>
<path d="M503.50 158.75L504.65 156.70H502.35Z" fill="#a0001c"/>
<path d="M495.10 160.75L496.25 158.70H493.95Z" fill="#a0001c"/>
<path d="M498.00 161.45L499.15 159.40H496.85Z" fill="#a0001c"/>
<path d="M500.60 161.05L501.75 159.00H499.45Z" fill="#a0001c"/>
<path d="M504.00 160.75L505.15 158.70H502.85Z" fill="#a0001c"/>
<path d="M498.00 162.05L499.15 160.00H496.85Z" fill="#a0001c"/>
<line x1="435.30" y1="158.00" x2="452.10" y2="158.00" stroke="#000" stroke-width="1.4"/>
<line x1="453.20" y1="137.00" x2="471.00" y2="137.00" stroke="#000" stroke-width="1.4"/>
<line x1="471.80" y1="156.80" x2="488.70" y2="156.80" stroke="#000" stroke-width="1.4"/>
<line x1="491.30" y1="156.80" x2="507.80" y2="156.80" stroke="#000" stroke-width="1.4"/>
<line x1="325.40" y1="224.12" x2="325.40" y2="327.70" stroke="#111" stroke-width="1.3"/>
<line x1="321.90" y1="327.10" x2="406.00" y2="327.10" stroke="#222" stroke-width="1.4"/>
<line x1="321.90" y1="302.08" x2="325.40" y2="302.08" stroke="#111" stroke-width="1.0"/>
<text x="319.10" y="305.23" font-size="9.29" text-anchor="end" font-weight="normal" fill="#000" stroke="#000" stroke-width="0.08" textLength="9.56" lengthAdjust="spacingAndGlyphs">20</text>
<line x1="321.90" y1="277.05" x2="325.40" y2="277.05" stroke="#111" stroke-width="1.0"/>
<text x="319.10" y="280.20" font-size="9.29" text-anchor="end" font-weight="normal" fill="#000" stroke="#000" stroke-width="0.08" textLength="9.56" lengthAdjust="spacingAndGlyphs">40</text>
<line x1="321.90" y1="252.03" x2="325.40" y2="252.03" stroke="#111" stroke-width="1.0"/>
<text x="319.10" y="255.18" font-size="9.29" text-anchor="end" font-weight="normal" fill="#000" stroke="#000" stroke-width="0.08" textLength="9.56" lengthAdjust="spacingAndGlyphs">60</text>
<line x1="321.90" y1="227.00" x2="325.40" y2="227.00" stroke="#111" stroke-width="1.0"/>
<text x="319.10" y="230.15" font-size="9.29" text-anchor="end" font-weight="normal" fill="#000" stroke="#000" stroke-width="0.08" textLength="9.56" lengthAdjust="spacingAndGlyphs">80</text>
<text x="319.10" y="330.25" font-size="9.29" text-anchor="end" font-weight="normal" fill="#000" stroke="#000" stroke-width="0.08" textLength="4.78" lengthAdjust="spacingAndGlyphs">0</text>
<line x1="337.30" y1="327.10" x2="337.30" y2="329.70" stroke="#111" stroke-width="1.0"/>
<text x="337.30" y="340.45" font-size="8.96" text-anchor="middle" font-weight="normal" fill="#000" stroke="#000" stroke-width="0.08" textLength="10.61" lengthAdjust="spacingAndGlyphs">D0</text>
<line x1="355.60" y1="327.10" x2="355.60" y2="329.70" stroke="#111" stroke-width="1.0"/>
<text x="355.60" y="340.45" font-size="8.96" text-anchor="middle" font-weight="normal" fill="#000" stroke="#000" stroke-width="0.08" textLength="10.61" lengthAdjust="spacingAndGlyphs">D7</text>
<line x1="373.80" y1="327.10" x2="373.80" y2="329.70" stroke="#111" stroke-width="1.0"/>
<text x="373.80" y="340.45" font-size="8.96" text-anchor="middle" font-weight="normal" fill="#000" stroke="#000" stroke-width="0.08" textLength="15.23" lengthAdjust="spacingAndGlyphs">D28</text>
<line x1="392.10" y1="327.10" x2="392.10" y2="329.70" stroke="#111" stroke-width="1.0"/>
<text x="392.10" y="340.45" font-size="8.96" text-anchor="middle" font-weight="normal" fill="#000" stroke="#000" stroke-width="0.08" textLength="13.85" lengthAdjust="spacingAndGlyphs">end</text>
<circle cx="335.90" cy="303.80" r="1.08" fill="#a0001c"/>
<circle cx="339.20" cy="304.20" r="1.08" fill="#a0001c"/>
<circle cx="335.90" cy="308.40" r="1.08" fill="#a0001c"/>
<circle cx="339.20" cy="307.10" r="1.08" fill="#a0001c"/>
<circle cx="337.60" cy="313.00" r="1.08" fill="#a0001c"/>
<circle cx="333.90" cy="315.80" r="1.08" fill="#a0001c"/>
<circle cx="340.80" cy="316.00" r="1.08" fill="#a0001c"/>
<circle cx="332.50" cy="318.50" r="1.08" fill="#a0001c"/>
<circle cx="337.60" cy="318.50" r="1.08" fill="#a0001c"/>
<circle cx="331.60" cy="320.30" r="1.08" fill="#a0001c"/>
<circle cx="332.50" cy="321.60" r="1.08" fill="#a0001c"/>
<circle cx="335.80" cy="320.60" r="1.08" fill="#a0001c"/>
<circle cx="336.70" cy="322.40" r="1.08" fill="#a0001c"/>
<circle cx="338.10" cy="321.00" r="1.08" fill="#a0001c"/>
<circle cx="339.40" cy="322.40" r="1.08" fill="#a0001c"/>
<circle cx="340.80" cy="320.60" r="1.08" fill="#a0001c"/>
<circle cx="342.20" cy="322.00" r="1.08" fill="#a0001c"/>
<circle cx="343.40" cy="321.00" r="1.08" fill="#a0001c"/>
<circle cx="330.50" cy="323.60" r="1.08" fill="#a0001c"/>
<circle cx="332.50" cy="323.80" r="1.08" fill="#a0001c"/>
<circle cx="334.00" cy="322.50" r="1.08" fill="#a0001c"/>
<circle cx="337.60" cy="324.50" r="1.08" fill="#a0001c"/>
<circle cx="338.10" cy="325.30" r="1.08" fill="#a0001c"/>
<circle cx="344.50" cy="324.30" r="1.08" fill="#a0001c"/>
<circle cx="341.00" cy="324.00" r="1.08" fill="#a0001c"/>
<rect x="354.75" y="250.85" width="2.1" height="2.1" fill="#a0001c"/>
<rect x="354.75" y="268.45" width="2.1" height="2.1" fill="#a0001c"/>
<rect x="354.75" y="274.05" width="2.1" height="2.1" fill="#a0001c"/>
<rect x="354.75" y="281.55" width="2.1" height="2.1" fill="#a0001c"/>
<rect x="354.85" y="286.55" width="2.1" height="2.1" fill="#a0001c"/>
<rect x="354.85" y="289.75" width="2.1" height="2.1" fill="#a0001c"/>
<rect x="356.65" y="292.45" width="2.1" height="2.1" fill="#a0001c"/>
<rect x="352.75" y="294.15" width="2.1" height="2.1" fill="#a0001c"/>
<rect x="354.85" y="300.35" width="2.1" height="2.1" fill="#a0001c"/>
<rect x="349.55" y="305.65" width="2.1" height="2.1" fill="#a0001c"/>
<rect x="349.55" y="307.35" width="2.1" height="2.1" fill="#a0001c"/>
<rect x="349.55" y="309.15" width="2.1" height="2.1" fill="#a0001c"/>
<rect x="353.15" y="305.65" width="2.1" height="2.1" fill="#a0001c"/>
<rect x="353.15" y="307.35" width="2.1" height="2.1" fill="#a0001c"/>
<rect x="353.15" y="309.15" width="2.1" height="2.1" fill="#a0001c"/>
<rect x="356.65" y="305.65" width="2.1" height="2.1" fill="#a0001c"/>
<rect x="356.65" y="307.35" width="2.1" height="2.1" fill="#a0001c"/>
<rect x="356.65" y="309.15" width="2.1" height="2.1" fill="#a0001c"/>
<rect x="359.85" y="304.45" width="2.1" height="2.1" fill="#a0001c"/>
<rect x="359.85" y="307.95" width="2.1" height="2.1" fill="#a0001c"/>
<rect x="347.55" y="310.55" width="2.1" height="2.1" fill="#a0001c"/>
<rect x="361.35" y="310.95" width="2.1" height="2.1" fill="#a0001c"/>
<rect x="351.15" y="312.45" width="2.1" height="2.1" fill="#a0001c"/>
<rect x="354.85" y="312.85" width="2.1" height="2.1" fill="#a0001c"/>
<rect x="358.15" y="312.45" width="2.1" height="2.1" fill="#a0001c"/>
<rect x="349.25" y="315.65" width="2.1" height="2.1" fill="#a0001c"/>
<rect x="352.75" y="316.25" width="2.1" height="2.1" fill="#a0001c"/>
<rect x="356.65" y="317.15" width="2.1" height="2.1" fill="#a0001c"/>
<rect x="360.15" y="315.95" width="2.1" height="2.1" fill="#a0001c"/>
<rect x="354.85" y="322.15" width="2.1" height="2.1" fill="#a0001c"/>
<path d="M372.20 293.65L373.35 295.70H371.05Z" fill="#a0001c"/>
<path d="M375.80 294.85L376.95 296.90H374.65Z" fill="#a0001c"/>
<path d="M373.90 304.85L375.05 306.90H372.75Z" fill="#a0001c"/>
<path d="M373.90 309.75L375.05 311.80H372.75Z" fill="#a0001c"/>
<path d="M379.30 317.85L380.45 319.90H378.15Z" fill="#a0001c"/>
<path d="M368.60 321.25L369.75 323.30H367.45Z" fill="#a0001c"/>
<path d="M368.60 323.75L369.75 325.80H367.45Z" fill="#a0001c"/>
<path d="M371.70 321.25L372.85 323.30H370.55Z" fill="#a0001c"/>
<path d="M371.70 323.75L372.85 325.80H370.55Z" fill="#a0001c"/>
<path d="M375.20 321.25L376.35 323.30H374.05Z" fill="#a0001c"/>
<path d="M375.20 323.75L376.35 325.80H374.05Z" fill="#a0001c"/>
<path d="M379.10 321.25L380.25 323.30H377.95Z" fill="#a0001c"/>
<path d="M379.10 323.75L380.25 325.80H377.95Z" fill="#a0001c"/>
<path d="M368.60 324.75L369.75 326.80H367.45Z" fill="#a0001c"/>
<path d="M375.20 324.75L376.35 326.80H374.05Z" fill="#a0001c"/>
<path d="M392.10 304.05L393.25 302.00H390.95Z" fill="#a0001c"/>
<path d="M392.10 307.35L393.25 305.30H390.95Z" fill="#a0001c"/>
<path d="M388.70 319.05L389.85 317.00H387.55Z" fill="#a0001c"/>
<path d="M386.00 321.95L387.15 319.90H384.85Z" fill="#a0001c"/>
<path d="M391.10 321.75L392.25 319.70H389.95Z" fill="#a0001c"/>
<path d="M394.60 321.95L395.75 319.90H393.45Z" fill="#a0001c"/>
<path d="M397.20 322.15L398.35 320.10H396.05Z" fill="#a0001c"/>
<path d="M387.00 324.95L388.15 322.90H385.85Z" fill="#a0001c"/>
<path d="M390.00 324.45L391.15 322.40H388.85Z" fill="#a0001c"/>
<path d="M393.60 323.95L394.75 321.90H392.45Z" fill="#a0001c"/>
<path d="M396.70 324.75L397.85 322.70H395.55Z" fill="#a0001c"/>
<path d="M399.20 323.75L400.35 321.70H398.05Z" fill="#a0001c"/>
<path d="M390.00 326.55L391.15 324.50H388.85Z" fill="#a0001c"/>
<path d="M393.60 326.55L394.75 324.50H392.45Z" fill="#a0001c"/>
<line x1="329.10" y1="319.30" x2="346.00" y2="319.30" stroke="#000" stroke-width="1.4"/>
<line x1="347.10" y1="302.90" x2="364.40" y2="302.90" stroke="#000" stroke-width="1.4"/>
<line x1="365.20" y1="319.90" x2="382.60" y2="319.90" stroke="#000" stroke-width="1.4"/>
<line x1="383.90" y1="321.20" x2="400.30" y2="321.20" stroke="#000" stroke-width="1.4"/>
<line x1="431.40" y1="224.84" x2="431.40" y2="327.70" stroke="#111" stroke-width="1.3"/>
<line x1="427.90" y1="327.10" x2="512.70" y2="327.10" stroke="#222" stroke-width="1.4"/>
<line x1="427.90" y1="302.25" x2="431.40" y2="302.25" stroke="#111" stroke-width="1.0"/>
<text x="425.10" y="305.40" font-size="9.29" text-anchor="end" font-weight="normal" fill="#000" stroke="#000" stroke-width="0.08" textLength="9.56" lengthAdjust="spacingAndGlyphs">20</text>
<line x1="427.90" y1="277.40" x2="431.40" y2="277.40" stroke="#111" stroke-width="1.0"/>
<text x="425.10" y="280.55" font-size="9.29" text-anchor="end" font-weight="normal" fill="#000" stroke="#000" stroke-width="0.08" textLength="9.56" lengthAdjust="spacingAndGlyphs">40</text>
<line x1="427.90" y1="252.55" x2="431.40" y2="252.55" stroke="#111" stroke-width="1.0"/>
<text x="425.10" y="255.70" font-size="9.29" text-anchor="end" font-weight="normal" fill="#000" stroke="#000" stroke-width="0.08" textLength="9.56" lengthAdjust="spacingAndGlyphs">60</text>
<line x1="427.90" y1="227.70" x2="431.40" y2="227.70" stroke="#111" stroke-width="1.0"/>
<text x="425.10" y="230.85" font-size="9.29" text-anchor="end" font-weight="normal" fill="#000" stroke="#000" stroke-width="0.08" textLength="9.56" lengthAdjust="spacingAndGlyphs">80</text>
<text x="425.10" y="330.25" font-size="9.29" text-anchor="end" font-weight="normal" fill="#000" stroke="#000" stroke-width="0.08" textLength="4.78" lengthAdjust="spacingAndGlyphs">0</text>
<line x1="443.80" y1="327.10" x2="443.80" y2="329.70" stroke="#111" stroke-width="1.0"/>
<text x="443.80" y="340.45" font-size="8.96" text-anchor="middle" font-weight="normal" fill="#000" stroke="#000" stroke-width="0.08" textLength="10.61" lengthAdjust="spacingAndGlyphs">D0</text>
<line x1="462.40" y1="327.10" x2="462.40" y2="329.70" stroke="#111" stroke-width="1.0"/>
<text x="462.40" y="340.45" font-size="8.96" text-anchor="middle" font-weight="normal" fill="#000" stroke="#000" stroke-width="0.08" textLength="10.61" lengthAdjust="spacingAndGlyphs">D7</text>
<line x1="481.00" y1="327.10" x2="481.00" y2="329.70" stroke="#111" stroke-width="1.0"/>
<text x="481.00" y="340.45" font-size="8.96" text-anchor="middle" font-weight="normal" fill="#000" stroke="#000" stroke-width="0.08" textLength="15.23" lengthAdjust="spacingAndGlyphs">D28</text>
<line x1="499.60" y1="327.10" x2="499.60" y2="329.70" stroke="#111" stroke-width="1.0"/>
<text x="499.60" y="340.45" font-size="8.96" text-anchor="middle" font-weight="normal" fill="#000" stroke="#000" stroke-width="0.08" textLength="13.85" lengthAdjust="spacingAndGlyphs">end</text>
<circle cx="443.60" cy="304.70" r="1.08" fill="#a0001c"/>
<circle cx="445.40" cy="306.60" r="1.08" fill="#a0001c"/>
<circle cx="441.80" cy="308.40" r="1.08" fill="#a0001c"/>
<circle cx="443.60" cy="313.10" r="1.08" fill="#a0001c"/>
<circle cx="441.90" cy="315.40" r="1.08" fill="#a0001c"/>
<circle cx="445.50" cy="315.60" r="1.08" fill="#a0001c"/>
<circle cx="449.10" cy="316.20" r="1.08" fill="#a0001c"/>
<circle cx="438.30" cy="317.30" r="1.08" fill="#a0001c"/>
<circle cx="441.90" cy="317.60" r="1.08" fill="#a0001c"/>
<circle cx="445.50" cy="317.60" r="1.08" fill="#a0001c"/>
<circle cx="449.10" cy="318.40" r="1.08" fill="#a0001c"/>
<circle cx="438.30" cy="319.30" r="1.08" fill="#a0001c"/>
<circle cx="441.90" cy="319.80" r="1.08" fill="#a0001c"/>
<circle cx="445.50" cy="319.60" r="1.08" fill="#a0001c"/>
<circle cx="449.10" cy="320.40" r="1.08" fill="#a0001c"/>
<circle cx="441.90" cy="321.70" r="1.08" fill="#a0001c"/>
<circle cx="445.50" cy="321.60" r="1.08" fill="#a0001c"/>
<circle cx="449.10" cy="321.90" r="1.08" fill="#a0001c"/>
<circle cx="436.40" cy="324.50" r="1.08" fill="#a0001c"/>
<circle cx="438.50" cy="323.40" r="1.08" fill="#a0001c"/>
<circle cx="440.40" cy="324.50" r="1.08" fill="#a0001c"/>
<circle cx="442.90" cy="323.60" r="1.08" fill="#a0001c"/>
<circle cx="443.80" cy="325.10" r="1.08" fill="#a0001c"/>
<circle cx="445.30" cy="324.30" r="1.08" fill="#a0001c"/>
<circle cx="447.00" cy="325.10" r="1.08" fill="#a0001c"/>
<circle cx="449.10" cy="323.60" r="1.08" fill="#a0001c"/>
<circle cx="451.20" cy="324.50" r="1.08" fill="#a0001c"/>
<rect x="461.45" y="238.35" width="2.1" height="2.1" fill="#a0001c"/>
<rect x="461.45" y="250.85" width="2.1" height="2.1" fill="#a0001c"/>
<rect x="461.45" y="256.65" width="2.1" height="2.1" fill="#a0001c"/>
<rect x="461.25" y="270.75" width="2.1" height="2.1" fill="#a0001c"/>
<rect x="459.45" y="282.35" width="2.1" height="2.1" fill="#a0001c"/>
<rect x="463.25" y="281.55" width="2.1" height="2.1" fill="#a0001c"/>
<rect x="457.85" y="288.95" width="2.1" height="2.1" fill="#a0001c"/>
<rect x="461.55" y="289.25" width="2.1" height="2.1" fill="#a0001c"/>
<rect x="465.15" y="287.45" width="2.1" height="2.1" fill="#a0001c"/>
<rect x="459.75" y="301.15" width="2.1" height="2.1" fill="#a0001c"/>
<rect x="463.25" y="300.45" width="2.1" height="2.1" fill="#a0001c"/>
<rect x="463.25" y="304.35" width="2.1" height="2.1" fill="#a0001c"/>
<rect x="461.25" y="308.15" width="2.1" height="2.1" fill="#a0001c"/>
<rect x="454.35" y="310.45" width="2.1" height="2.1" fill="#a0001c"/>
<rect x="464.65" y="310.45" width="2.1" height="2.1" fill="#a0001c"/>
<rect x="468.15" y="308.75" width="2.1" height="2.1" fill="#a0001c"/>
<rect x="457.85" y="311.85" width="2.1" height="2.1" fill="#a0001c"/>
<rect x="461.25" y="311.85" width="2.1" height="2.1" fill="#a0001c"/>
<rect x="457.85" y="313.85" width="2.1" height="2.1" fill="#a0001c"/>
<rect x="461.25" y="313.85" width="2.1" height="2.1" fill="#a0001c"/>
<rect x="464.65" y="313.15" width="2.1" height="2.1" fill="#a0001c"/>
<rect x="454.35" y="315.85" width="2.1" height="2.1" fill="#a0001c"/>
<rect x="468.15" y="315.85" width="2.1" height="2.1" fill="#a0001c"/>
<rect x="465.15" y="316.15" width="2.1" height="2.1" fill="#a0001c"/>
<rect x="457.85" y="317.75" width="2.1" height="2.1" fill="#a0001c"/>
<rect x="461.25" y="318.45" width="2.1" height="2.1" fill="#a0001c"/>
<rect x="463.15" y="318.95" width="2.1" height="2.1" fill="#a0001c"/>
<rect x="459.45" y="321.55" width="2.1" height="2.1" fill="#a0001c"/>
<path d="M480.90 277.95L482.05 280.00H479.75Z" fill="#a0001c"/>
<path d="M480.90 284.25L482.05 286.30H479.75Z" fill="#a0001c"/>
<path d="M480.90 298.75L482.05 300.80H479.75Z" fill="#a0001c"/>
<path d="M479.30 302.85L480.45 304.90H478.15Z" fill="#a0001c"/>
<path d="M482.80 304.95L483.95 307.00H481.65Z" fill="#a0001c"/>
<path d="M482.80 307.75L483.95 309.80H481.65Z" fill="#a0001c"/>
<path d="M479.30 310.05L480.45 312.10H478.15Z" fill="#a0001c"/>
<path d="M477.80 312.45L478.95 314.50H476.65Z" fill="#a0001c"/>
<path d="M484.60 312.45L485.75 314.50H483.45Z" fill="#a0001c"/>
<path d="M480.90 314.85L482.05 316.90H479.75Z" fill="#a0001c"/>
<path d="M477.60 318.05L478.75 320.10H476.45Z" fill="#a0001c"/>
<path d="M481.40 318.05L482.55 320.10H480.25Z" fill="#a0001c"/>
<path d="M484.90 318.05L486.05 320.10H483.75Z" fill="#a0001c"/>
<path d="M475.00 320.75L476.15 322.80H473.85Z" fill="#a0001c"/>
<path d="M479.00 320.75L480.15 322.80H477.85Z" fill="#a0001c"/>
<path d="M482.80 320.75L483.95 322.80H481.65Z" fill="#a0001c"/>
<path d="M487.00 320.75L488.15 322.80H485.85Z" fill="#a0001c"/>
<path d="M474.00 323.35L475.15 325.40H472.85Z" fill="#a0001c"/>
<path d="M477.60 323.35L478.75 325.40H476.45Z" fill="#a0001c"/>
<path d="M481.00 323.35L482.15 325.40H479.85Z" fill="#a0001c"/>
<path d="M484.90 323.35L486.05 325.40H483.75Z" fill="#a0001c"/>
<path d="M488.40 323.35L489.55 325.40H487.25Z" fill="#a0001c"/>
<path d="M499.60 296.25L500.75 294.20H498.45Z" fill="#a0001c"/>
<path d="M501.50 309.25L502.65 307.20H500.35Z" fill="#a0001c"/>
<path d="M497.80 311.15L498.95 309.10H496.65Z" fill="#a0001c"/>
<path d="M503.20 313.55L504.35 311.50H502.05Z" fill="#a0001c"/>
<path d="M496.10 315.65L497.25 313.60H494.95Z" fill="#a0001c"/>
<path d="M500.10 316.35L501.25 314.30H498.95Z" fill="#a0001c"/>
<path d="M496.10 318.75L497.25 316.70H494.95Z" fill="#a0001c"/>
<path d="M503.20 319.15L504.35 317.10H502.05Z" fill="#a0001c"/>
<path d="M492.60 321.55L493.75 319.50H491.45Z" fill="#a0001c"/>
<path d="M501.80 322.35L502.95 320.30H500.65Z" fill="#a0001c"/>
<path d="M505.30 321.95L506.45 319.90H504.15Z" fill="#a0001c"/>
<path d="M494.70 325.05L495.85 323.00H493.55Z" fill="#a0001c"/>
<path d="M498.20 325.45L499.35 323.40H497.05Z" fill="#a0001c"/>
<path d="M499.60 324.05L500.75 322.00H498.45Z" fill="#a0001c"/>
<path d="M501.80 325.05L502.95 323.00H500.65Z" fill="#a0001c"/>
<path d="M505.30 325.05L506.45 323.00H504.15Z" fill="#a0001c"/>
<path d="M498.20 326.65L499.35 324.60H497.05Z" fill="#a0001c"/>
<line x1="435.10" y1="319.20" x2="452.10" y2="319.20" stroke="#000" stroke-width="1.4"/>
<line x1="453.80" y1="300.60" x2="470.80" y2="300.60" stroke="#000" stroke-width="1.4"/>
<line x1="472.20" y1="314.80" x2="489.80" y2="314.80" stroke="#000" stroke-width="1.4"/>
<line x1="491.20" y1="319.30" x2="508.50" y2="319.30" stroke="#000" stroke-width="1.4"/>
<path d="M335.80 61.60 V56.30 H354.70 V61.60" fill="none" stroke="#525a6a" stroke-width="1.0"/>
<path d="M358.20 61.60 V56.30 H387.70 V69.50" fill="none" stroke="#525a6a" stroke-width="1.0"/>
<line x1="377.20" y1="69.50" x2="397.80" y2="69.50" stroke="#525a6a" stroke-width="1.0"/>
<rect x="341.35" y="51.30" width="1.8" height="1.8" rx="0.5" fill="#525a6a"/>
<rect x="344.30" y="51.30" width="1.8" height="1.8" rx="0.5" fill="#525a6a"/>
<rect x="347.25" y="51.30" width="1.8" height="1.8" rx="0.5" fill="#525a6a"/>
<rect x="368.95" y="51.30" width="1.8" height="1.8" rx="0.5" fill="#525a6a"/>
<rect x="371.90" y="51.30" width="1.8" height="1.8" rx="0.5" fill="#525a6a"/>
<rect x="374.85" y="51.30" width="1.8" height="1.8" rx="0.5" fill="#525a6a"/>
<path d="M441.90 61.50 V56.40 H460.80 V61.50" fill="none" stroke="#525a6a" stroke-width="1.0"/>
<path d="M464.30 61.50 V56.40 H493.80 V69.30" fill="none" stroke="#525a6a" stroke-width="1.0"/>
<line x1="483.30" y1="69.30" x2="503.90" y2="69.30" stroke="#525a6a" stroke-width="1.0"/>
<rect x="447.45" y="51.40" width="1.8" height="1.8" rx="0.5" fill="#525a6a"/>
<rect x="450.40" y="51.40" width="1.8" height="1.8" rx="0.5" fill="#525a6a"/>
<rect x="453.35" y="51.40" width="1.8" height="1.8" rx="0.5" fill="#525a6a"/>
<rect x="475.05" y="51.40" width="1.8" height="1.8" rx="0.5" fill="#525a6a"/>
<rect x="478.00" y="51.40" width="1.8" height="1.8" rx="0.5" fill="#525a6a"/>
<rect x="480.95" y="51.40" width="1.8" height="1.8" rx="0.5" fill="#525a6a"/>
<path d="M335.90 225.80 V220.50 H354.80 V225.80" fill="none" stroke="#525a6a" stroke-width="1.0"/>
<path d="M358.30 225.80 V220.50 H387.80 V233.20" fill="none" stroke="#525a6a" stroke-width="1.0"/>
<line x1="377.30" y1="233.20" x2="397.90" y2="233.20" stroke="#525a6a" stroke-width="1.0"/>
<rect x="341.45" y="215.50" width="1.8" height="1.8" rx="0.5" fill="#525a6a"/>
<rect x="344.40" y="215.50" width="1.8" height="1.8" rx="0.5" fill="#525a6a"/>
<rect x="347.35" y="215.50" width="1.8" height="1.8" rx="0.5" fill="#525a6a"/>
<rect x="369.05" y="215.50" width="1.8" height="1.8" rx="0.5" fill="#525a6a"/>
<rect x="372.00" y="215.50" width="1.8" height="1.8" rx="0.5" fill="#525a6a"/>
<rect x="374.95" y="215.50" width="1.8" height="1.8" rx="0.5" fill="#525a6a"/>
<path d="M441.90 225.80 V220.50 H460.80 V225.80" fill="none" stroke="#525a6a" stroke-width="1.0"/>
<path d="M464.30 225.80 V220.50 H493.80 V233.20" fill="none" stroke="#525a6a" stroke-width="1.0"/>
<line x1="483.30" y1="233.20" x2="503.90" y2="233.20" stroke="#525a6a" stroke-width="1.0"/>
<rect x="447.45" y="215.50" width="1.8" height="1.8" rx="0.5" fill="#525a6a"/>
<rect x="450.40" y="215.50" width="1.8" height="1.8" rx="0.5" fill="#525a6a"/>
<rect x="453.35" y="215.50" width="1.8" height="1.8" rx="0.5" fill="#525a6a"/>
<rect x="475.05" y="215.50" width="1.8" height="1.8" rx="0.5" fill="#525a6a"/>
<rect x="478.00" y="215.50" width="1.8" height="1.8" rx="0.5" fill="#525a6a"/>
<rect x="480.95" y="215.50" width="1.8" height="1.8" rx="0.5" fill="#525a6a"/>
<text x="365.30" y="44.90" font-size="9.18" text-anchor="middle" font-weight="normal" fill="#000" stroke="#000" stroke-width="0.08" textLength="17.00" lengthAdjust="spacingAndGlyphs">CD4</text>
<text x="471.30" y="44.80" font-size="9.18" text-anchor="middle" font-weight="normal" fill="#000" stroke="#000" stroke-width="0.08" textLength="17.00" lengthAdjust="spacingAndGlyphs">CD8</text>
<text x="365.30" y="208.90" font-size="9.18" text-anchor="middle" font-weight="normal" fill="#000" stroke="#000" stroke-width="0.08" textLength="17.00" lengthAdjust="spacingAndGlyphs">CD4</text>
<text x="471.30" y="208.90" font-size="9.18" text-anchor="middle" font-weight="normal" fill="#000" stroke="#000" stroke-width="0.08" textLength="17.00" lengthAdjust="spacingAndGlyphs">CD8</text>
<text transform="translate(303.0 111.00) rotate(-90) scale(0.87 1)" font-size="8.2" text-anchor="middle" fill="#000" stroke="#000" stroke-width="0.2">%Ki-67<tspan font-size="5.2" dy="-3.0">+</tspan></text>
<text transform="translate(303.0 275.50) rotate(-90) scale(0.87 1)" font-size="8.2" text-anchor="middle" fill="#000" stroke="#000" stroke-width="0.2">%Ki-67<tspan font-size="5.2" dy="-3.0">+</tspan></text>
</svg>
<svg width="520" height="391" viewBox="0 0 520 391" shape-rendering="crispEdges">
<rect x="0" y="0" width="520" height="1" fill="#000"/><rect x="0" y="0" width="1" height="391" fill="#000"/>
<rect x="1" y="1" width="518" height="1" fill="#cfcfcf"/><rect x="1" y="1" width="1" height="389" fill="#cfcfcf"/>
<rect x="519" y="0" width="1" height="391" fill="#000"/><rect x="0" y="390" width="520" height="1" fill="#000"/>
<rect x="518" y="1" width="1" height="389" fill="#808080"/><rect x="1" y="389" width="518" height="1" fill="#808080"/>
</svg></div></body></html>
